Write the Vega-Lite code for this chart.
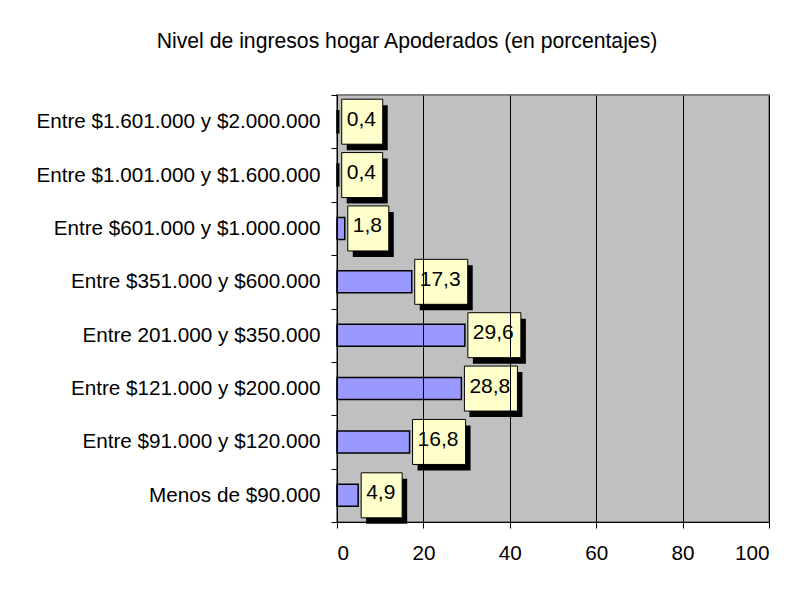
{
  "$schema": "https://vega.github.io/schema/vega-lite/v6.json",
  "width": 432,
  "height": 427,
  "autosize": {"type": "none"},
  "padding": {"left": 337, "top": 95, "right": 26, "bottom": 67},
  "background": "white",
  "title": {
    "text": "Nivel de ingresos hogar Apoderados (en porcentajes)",
    "font": "Liberation Sans",
    "fontSize": 21.2,
    "fontWeight": "normal",
    "color": "black",
    "anchor": "middle",
    "dx": -146,
    "offset": 32
  },
  "config": {
    "view": {"fill": "#C0C0C0", "stroke": "#808080", "strokeWidth": 2}
  },
  "data": {
    "values": [
      {"cat": "Entre $1.601.000 y $2.000.000", "v": 0.4, "label": "0,4"},
      {"cat": "Entre $1.001.000 y $1.600.000", "v": 0.4, "label": "0,4"},
      {"cat": "Entre $601.000 y $1.000.000", "v": 1.8, "label": "1,8"},
      {"cat": "Entre $351.000 y $600.000", "v": 17.3, "label": "17,3"},
      {"cat": "Entre 201.000 y $350.000", "v": 29.6, "label": "29,6"},
      {"cat": "Entre $121.000 y $200.000", "v": 28.8, "label": "28,8"},
      {"cat": "Entre $91.000 y $120.000", "v": 16.8, "label": "16,8"},
      {"cat": "Menos de $90.000", "v": 4.9, "label": "4,9"}
    ]
  },
  "encoding": {
    "y": {
      "field": "cat",
      "type": "nominal",
      "sort": null,
      "scale": {"paddingInner": 0, "paddingOuter": 0},
      "axis": {
        "title": null,
        "labelFont": "Liberation Sans",
        "labelFontSize": 20.7,
        "labelColor": "black",
        "labelPadding": 11,
        "labelLimit": 400,
        "tickSize": 6,
        "tickColor": "black",
        "tickBand": "extent",
        "domainColor": "black",
        "grid": false,
        "zindex": 1
      }
    }
  },
  "layer": [
    {
      "mark": {"type": "bar", "size": 22, "fill": "#9999FF", "stroke": "black", "strokeWidth": 1.5},
      "encoding": {
        "x": {
          "field": "v",
          "type": "quantitative",
          "scale": {"domain": [0, 100], "nice": false},
          "axis": {
            "title": null,
            "values": [0, 20, 40, 60, 80, 100],
            "labelFont": "Liberation Sans",
            "labelFontSize": 20.7,
            "labelColor": "black",
            "labelPadding": 15,
            "tickSize": 6,
            "tickColor": "black",
            "domainColor": "black",
            "grid": true,
            "gridColor": "black",
            "gridOpacity": 1,
            "zindex": 1
          }
        }
      }
    },
    {
      "transform": [{"filter": "length(datum.label) == 3"}],
      "mark": {"type": "bar", "size": 45, "fill": "black", "xOffset": 8, "x2Offset": 49, "yOffset": 6},
      "encoding": {"x": {"field": "v", "type": "quantitative"}, "x2": {"field": "v"}}
    },
    {
      "transform": [{"filter": "length(datum.label) == 4"}],
      "mark": {"type": "bar", "size": 45, "fill": "black", "xOffset": 8, "x2Offset": 61, "yOffset": 6},
      "encoding": {"x": {"field": "v", "type": "quantitative"}, "x2": {"field": "v"}}
    },
    {
      "transform": [{"filter": "length(datum.label) == 3"}],
      "mark": {"type": "bar", "size": 45, "fill": "#FFFFCC", "stroke": "black", "strokeWidth": 1, "xOffset": 3, "x2Offset": 44},
      "encoding": {"x": {"field": "v", "type": "quantitative"}, "x2": {"field": "v"}}
    },
    {
      "transform": [{"filter": "length(datum.label) == 4"}],
      "mark": {"type": "bar", "size": 45, "fill": "#FFFFCC", "stroke": "black", "strokeWidth": 1, "xOffset": 3, "x2Offset": 56},
      "encoding": {"x": {"field": "v", "type": "quantitative"}, "x2": {"field": "v"}}
    },
    {
      "mark": {"type": "text", "align": "left", "baseline": "middle", "dx": 8, "dy": -2, "font": "Liberation Sans", "fontSize": 21, "color": "black"},
      "encoding": {"x": {"field": "v", "type": "quantitative"}, "text": {"field": "label"}}
    }
  ]
}
